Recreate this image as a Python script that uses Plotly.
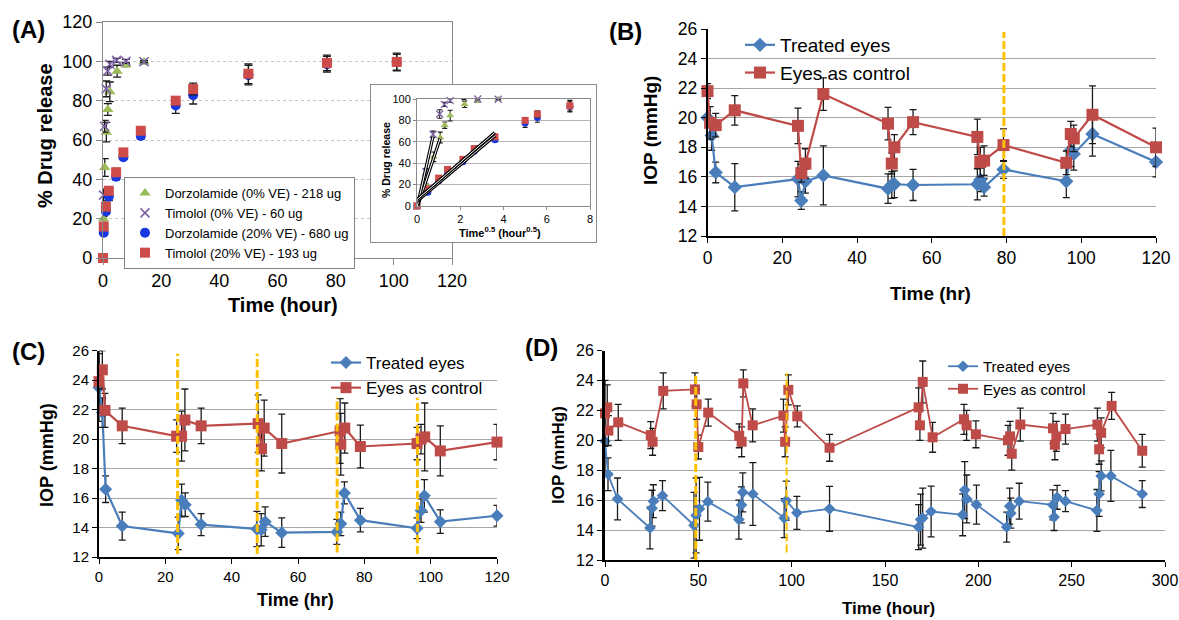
import numpy as np
import plotly.graph_objects as go

W, H = 1179, 620
FONT = "Liberation Sans, Arial, sans-serif"

# ---------------- Panel A data (% drug release) ----------------
a_t_dorzo0 = [0, 0.17, 0.6, 1.15, 1.65, 2.35, 4.85, 7.8, 14.1]
a_y_dorzo0 = [0, 20, 46, 64, 75.5, 84.5, 95, 98.3, 99.7]
a_e_dorzo0 = [0, 1, 4.5, 5, 3, 5, 3, 1, 0.8]
a_t_timo0 = [0, 0.17, 0.55, 1.1, 1.6, 2.35, 4.7, 7.9, 14.1]
a_y_timo0 = [0, 32, 67, 86, 95, 98.5, 100.5, 100, 99.8]
a_e_timo0 = [0, 3, 3, 4, 2, 1.5, 1, 1, 0.5]
a_t_20 = [0, 0.25, 1, 2, 4.5, 7, 13, 25, 31, 50, 77, 101]
a_y_dorzo20 = [0, 12.9, 23.7, 31.2, 41.3, 51.2, 62, 77.5, 82.8, 93, 98.5, 99.5]
a_e_dorzo20 = [0, 1, 1.5, 2, 1.5, 1, 1.5, 4, 4.5, 5, 4, 4]
a_y_timo20 = [0, 16, 26.1, 34.2, 43.6, 53.7, 64.7, 80, 85.9, 93.7, 99.2, 99.7]
a_e_timo20 = [0, 1.5, 1.5, 2, 2, 1.5, 1.5, 2, 3, 5, 4, 4.5]
a_names = ["Dorzolamide (0% VE) - 218 ug", "Timolol (0% VE) - 60 ug",
           "Dorzolamide (20% VE) - 680 ug", "Timolol (20% VE) - 193 ug"]
a_fit_limit = 70  # points used for the sqrt-time linear fits in the inset

# ---------------- Panel B data ----------------
b_t_treated = [0, 1.1, 2.2, 7.3, 24.2, 25.1, 26.2, 31, 48.3, 49.3, 50, 55, 72.2, 73, 74, 79.2, 96, 97.2, 98, 103, 120]
b_y_treated = [20.0, 18.8, 16.3, 15.3, 15.85, 14.4, 15.7, 16.1, 15.2, 15.45, 15.5, 15.45, 15.5, 15.8, 15.3, 16.5, 15.7, 17.8, 17.55, 18.9, 17.0]
b_e_treated = [0.5, 1.0, 0.7, 1.6, 1.2, 0.6, 0.8, 2.0, 1.0, 0.9, 0.9, 1.05, 1.05, 0.8, 0.6, 0.6, 1.1, 1.1, 1.1, 1.5, 1.0]
b_t_control = [0, 0.7, 2.2, 7.3, 24.2, 25.1, 26.2, 31, 48.3, 49.3, 50, 55, 72.2, 73, 74, 79.2, 96, 97.2, 98, 103, 120]
b_y_control = [21.8, 19.65, 19.5, 20.5, 19.45, 16.25, 16.9, 21.6, 19.6, 16.9, 18.0, 19.7, 18.7, 17.0, 17.1, 18.15, 16.95, 18.9, 18.6, 20.2, 18.0]
b_e_control = [0.5, 1.1, 0.8, 1.0, 1.2, 0.6, 1.0, 1.1, 1.1, 0.7, 0.85, 0.85, 1.2, 1.0, 1.0, 1.1, 0.8, 0.85, 0.9, 1.95, 1.3]
b_dose_t = [79.3]
b_dose_top = [25.8]
b_dose_bottom = [12.0]

# ---------------- Panel C data ----------------
c_t_treated = [0, 1, 2, 7, 23.9, 24.9, 26, 30.8, 47.6, 48.9, 50.1, 55.1, 71.7, 72.9, 74, 78.8, 95.9, 97.1, 98.1, 102.9, 120]
c_y_treated = [23.5, 21.8, 16.6, 14.1, 13.6, 15.85, 15.55, 14.2, 13.9, 13.85, 14.4, 13.65, 13.7, 14.25, 16.35, 14.5, 13.95, 15.15, 16.15, 14.4, 14.8]
c_e_treated = [2.3, 1.0, 0.9, 0.95, 1.1, 1.1, 0.8, 0.75, 1.2, 1.1, 1.0, 1.0, 0.85, 0.8, 0.75, 0.8, 0.7, 0.8, 1.1, 0.8, 0.7]
c_t_control = [0, 1, 1.8, 7, 23.4, 24.9, 25.9, 30.8, 48, 49, 49.8, 55.1, 72.7, 72.9, 74.1, 78.8, 95.9, 97.1, 98.2, 102.9, 120]
c_y_control = [23.9, 24.7, 21.95, 20.9, 20.2, 20.2, 21.3, 20.9, 21.05, 19.35, 20.75, 19.7, 20.55, 19.65, 20.75, 19.5, 19.7, 20.0, 20.15, 19.2, 19.8]
c_e_control = [2.1, 1.3, 1.15, 1.2, 1.1, 1.7, 2.1, 1.2, 1.95, 1.5, 1.9, 2.0, 2.2, 2.1, 1.7, 1.45, 1.1, 1.0, 2.3, 1.7, 1.2]
c_dose_t = [23.7, 47.7, 71.8, 96]
c_dose_top = [25.8, 25.8, 22.8, 22.8]
c_dose_bottom = [12.2, 12.2, 12.3, 12.2]

# ---------------- Panel D data ----------------
d_t_treated = [0, 1.6, 6.7, 24.1, 25.2, 25.9, 30.8, 47.7, 48.8, 50.6, 55.1, 71.7, 73.1, 73.8, 79.2, 96, 97.1, 102.8, 120.3,
               168, 169.1, 170.2, 174.7, 191.6, 192.7, 193.8, 199, 215.2, 216.8, 217.4, 221.9, 239.9, 240.6, 242.2, 246.7,
               263.5, 264.7, 265.8, 271, 287.8]
d_y_treated = [19.95, 17.73, 16.08, 14.14, 15.46, 15.93, 16.3, 14.32, 14.98, 15.42, 15.9, 14.7, 15.68, 16.52, 16.41, 14.8, 15.97, 15.15, 15.42,
               14.2, 14.7, 14.8, 15.24, 15.02, 16.67, 16.08, 15.7, 14.2, 15.6, 15.13, 15.93, 15.68, 14.87, 16.19, 15.93,
               15.31, 16.41, 17.62, 17.62, 16.41]
d_e_treated = [2.2, 1.1, 1.4, 1.4, 1.2, 1.1, 1.0, 2.2, 2.5, 2.1, 1.3, 1.3, 1.2, 1.3, 2.1, 1.3, 1.3, 1.1, 1.5,
               1.5, 1.7, 2.0, 1.7, 1.4, 1.9, 1.6, 1.3, 1.0, 1.2, 1.0, 1.2, 1.0, 0.9, 0.8, 0.7,
               1.4, 1.5, 1.0, 1.7, 0.9]
d_t_control = [0, 1.2, 1.8, 7.1, 24.5, 25.5, 31.2, 48.2, 49.1, 50, 55.3, 71.9, 73.2, 74.1, 79.1, 95.6, 96.5, 98.2, 103, 120.3,
               168, 168.7, 170.2, 175.5, 192.3, 193.7, 198.7, 215.9, 217, 217.9, 222.5, 240, 241, 241.8, 246.7,
               263.8, 264.7, 265.8, 271.4, 287.8]
d_y_control = [21.8, 22.2, 20.65, 21.2, 20.35, 19.9, 23.3, 23.4, 22.4, 19.55, 21.85, 20.3, 19.9, 23.8, 21.0, 21.65, 19.9, 23.37, 21.6, 19.5,
               22.2, 21.0, 23.9, 20.2, 21.4, 21.0, 20.4, 20.0, 20.26, 19.1, 21.05, 20.8, 19.7, 20.26, 20.75,
               21.05, 19.4, 20.5, 22.3, 19.3]
d_e_control = [2.2, 1.5, 1.0, 1.2, 0.9, 0.9, 1.2, 1.1, 1.0, 0.8, 0.9, 0.8, 1.0, 0.9, 1.1, 1.1, 1.0, 1.0, 0.7, 0.9,
               1.3, 1.0, 1.4, 1.0, 1.0, 1.0, 0.9, 1.0, 1.0, 1.1, 1.1, 1.0, 1.0, 1.0, 1.0,
               1.1, 1.0, 1.0, 0.9, 1.1]
d_dose_t = [48.6, 97.3]
d_dose_top = [24.5, 24.5]
d_dose_bottom = [12.0, 12.5]

iop_names = ["Treated eyes", "Eyes as control"]

# ---------------- styling ----------------
GREEN, PURPLE, BLUE_A, RED_A = "#9BBB59", "#7F62A8", "#1737E0", "#CD4C4A"
BLUE, RED, ORANGE = "#4A7EBB", "#BE4B48", "#FFC000"


def px(x):
    return x / W


def py(y):
    return 1 - y / H


def err(arr, width=3.5, thick=1.3):
    return dict(type="data", array=arr, symmetric=True, color="#1a1a1a", thickness=thick, width=width, visible=True)


fig = go.Figure()

# ---- Panel A main ----
a_series = [
    (a_names[0], a_t_dorzo0, a_y_dorzo0, a_e_dorzo0, "triangle-up", GREEN, 10),
    (a_names[1], a_t_timo0, a_y_timo0, a_e_timo0, "x-thin", PURPLE, 9),
    (a_names[2], a_t_20, a_y_dorzo20, a_e_dorzo20, "circle", BLUE_A, 10),
    (a_names[3], a_t_20, a_y_timo20, a_e_timo20, "square", RED_A, 10),
]
for name, t, y, e, sym, col, size in a_series:
    if sym == "x-thin":
        mk = dict(symbol=sym, size=size, color=col, line=dict(color=col, width=1.6))
    else:
        mk = dict(symbol=sym, size=size, color=col, line=dict(width=0))
    fig.add_trace(go.Scatter(x=t, y=y, mode="markers", name=name, marker=mk, error_y=err(e, 4),
                             xaxis="x", yaxis="y", legend="legend", cliponaxis=False))

# ---- inset background panel ----
fig.add_trace(go.Scatter(x=[0, 1, 1, 0, 0], y=[0, 0, 1, 1, 0], mode="lines", fill="toself", fillcolor="white",
                         line=dict(color="#8c8c8c", width=2), xaxis="x2", yaxis="y2", showlegend=False,
                         hoverinfo="skip"))

# ---- Panel A inset (sqrt time) ----
for name, t, y, e, sym, col, size in a_series:
    st = np.sqrt(np.array(t, dtype=float))
    if sym == "x-thin":
        mk = dict(symbol=sym, size=7, color=col, line=dict(color=col, width=1.3))
    else:
        mk = dict(symbol=sym, size=7, color=col, line=dict(width=0))
    fig.add_trace(go.Scatter(x=st, y=y, mode="markers", marker=mk, error_y=err(e, 2.5, 1.1),
                             xaxis="x3", yaxis="y3", showlegend=False, cliponaxis=False))
for name, t, y, e, sym, col, size in a_series:
    st = np.sqrt(np.array(t, dtype=float))
    yy = np.array(y, dtype=float)
    sel = yy <= a_fit_limit
    k, b = np.polyfit(st[sel], yy[sel], 1)
    xs = np.array([0.0, st[sel].max()])
    for lw, lc in ((3.2, "black"), (1.0, "white")):
        fig.add_trace(go.Scatter(x=xs, y=k * xs + b, mode="lines", line=dict(color=lc, width=lw),
                                 xaxis="x3", yaxis="y3", showlegend=False, hoverinfo="skip"))


# ---- IOP panels ----
def iop_panel(xa, ya, leg, tt, yt, et, tc, yc, ec, dt, dtop, dbot, dsz, ssz, lw, dash_w):
    fig.add_trace(go.Scatter(x=tt, y=yt, mode="lines+markers", name=iop_names[0],
                             line=dict(color=BLUE, width=lw), marker=dict(symbol="diamond", size=dsz, color=BLUE),
                             error_y=err(et), xaxis=xa, yaxis=ya, legend=leg, cliponaxis=False))
    fig.add_trace(go.Scatter(x=tc, y=yc, mode="lines+markers", name=iop_names[1],
                             line=dict(color=RED, width=lw), marker=dict(symbol="square", size=ssz, color=RED),
                             error_y=err(ec), xaxis=xa, yaxis=ya, legend=leg, cliponaxis=False))
    for i, t in enumerate(dt):
        w = dash_w[i] if isinstance(dash_w, list) else dash_w
        fig.add_trace(go.Scatter(x=[t, t], y=[dbot[i], dtop[i]], mode="lines",
                                 line=dict(color=ORANGE, width=w, dash="8px,3px"),
                                 xaxis=xa, yaxis=ya, showlegend=False, hoverinfo="skip"))


iop_panel("x4", "y4", "legend2", b_t_treated, b_y_treated, b_e_treated, b_t_control, b_y_control, b_e_control,
          b_dose_t, b_dose_top, b_dose_bottom, 11, 12, 2.2, 3)
iop_panel("x5", "y5", "legend3", c_t_treated, c_y_treated, c_e_treated, c_t_control, c_y_control, c_e_control,
          c_dose_t, c_dose_top, c_dose_bottom, 10, 11, 2.2, 3)
iop_panel("x6", "y6", "legend4", d_t_treated, d_y_treated, d_e_treated, d_t_control, d_y_control, d_e_control,
          d_dose_t, d_dose_top, d_dose_bottom, 9, 10, 1.8, [3, 2])

# ---------------- axes ----------------
tick_black = dict(color="black", family=FONT)


def iop_x(dom, rng, dt, fs):
    return dict(domain=dom, range=rng, dtick=dt, tick0=0, showgrid=False, zeroline=False, showline=True,
                linecolor="black", linewidth=1.5, ticks="outside", ticklen=5, tickcolor="black",
                tickfont=dict(size=fs, **tick_black), automargin=False)


def iop_y(dom, fs, lw):
    return dict(domain=dom, range=[12, 26], dtick=2, tick0=12, showgrid=True, gridcolor="#A6A6A6", gridwidth=1.3,
                zeroline=False, showline=True, linecolor="black", linewidth=lw, ticks="outside", ticklen=5,
                tickcolor="black", tickfont=dict(size=fs, **tick_black), automargin=False)


fig.update_layout(
    template="none",
    width=W, height=H, margin=dict(l=0, r=0, t=0, b=0, pad=0, autoexpand=False),
    paper_bgcolor="white", plot_bgcolor="white",
    font=dict(family=FONT, color="black"),
    xaxis=dict(domain=[px(103), px(452)], range=[0, 120], dtick=20, tick0=0, showgrid=False, zeroline=False,
               showline=True, linecolor="#8a8a8a", linewidth=1.2, mirror=True, ticks="outside", ticklen=6,
               tickcolor="#8a8a8a", tickfont=dict(size=18, **tick_black), anchor="y", automargin=False),
    yaxis=dict(domain=[py(258), py(22)], range=[0, 120], dtick=20, tick0=0, showgrid=True, gridcolor="#c4c4c4",
               griddash="dot", gridwidth=1, zeroline=False, showline=True, linecolor="#8a8a8a", linewidth=1.2,
               mirror=True, ticks="outside", ticklen=6, tickcolor="#8a8a8a",
               tickfont=dict(size=18, **tick_black), anchor="x", automargin=False),
    xaxis2=dict(domain=[px(370), px(597)], range=[0, 1], visible=False, anchor="y2", fixedrange=True,
                automargin=False),
    yaxis2=dict(domain=[py(243), py(84)], range=[0, 1], visible=False, anchor="x2", fixedrange=True,
                automargin=False),
    xaxis3=dict(domain=[px(417), px(590)], range=[0, 8], dtick=2, tick0=0, showgrid=False, zeroline=False,
                showline=True, linecolor="#8a8a8a", mirror=True, ticks="outside", ticklen=3, tickcolor="#8a8a8a",
                tickfont=dict(size=11, **tick_black), anchor="y3", automargin=False),
    yaxis3=dict(domain=[py(206), py(99)], range=[0, 100], dtick=20, tick0=0, showgrid=True, gridcolor="#b5b5b5",
                zeroline=False, showline=True, linecolor="#8a8a8a", mirror=True, ticks="outside", ticklen=3,
                tickcolor="#8a8a8a", tickfont=dict(size=11, **tick_black), anchor="x3", automargin=False),
    xaxis4=dict(iop_x([px(707.5), px(1156)], [0, 120], 20, 17.5), anchor="y4"),
    yaxis4=dict(iop_y([py(236), py(29)], 17.5, 1.5), anchor="x4"),
    xaxis5=dict(iop_x([px(99), px(497)], [0, 120], 20, 15), anchor="y5"),
    yaxis5=dict(iop_y([py(557), py(350.7)], 15, 2), anchor="x5"),
    xaxis6=dict(iop_x([px(605), px(1165)], [0, 300], 50, 16), anchor="y6"),
    yaxis6=dict(iop_y([py(560), py(350.5)], 16, 3), anchor="x6"),
    legend=dict(x=px(124), y=py(177), xanchor="left", yanchor="top", bgcolor="white", bordercolor="#808080",
                borderwidth=1, font=dict(size=13, family=FONT, color="black"), itemwidth=30, tracegroupgap=0),
    legend2=dict(x=px(740), y=py(26), xanchor="left", yanchor="top", bgcolor="rgba(255,255,255,0)",
                 font=dict(size=19, family=FONT, color="black"), itemwidth=30),
    legend3=dict(x=px(326), y=py(345), xanchor="left", yanchor="top", bgcolor="rgba(255,255,255,0)",
                 font=dict(size=17, family=FONT, color="black"), itemwidth=30),
    legend4=dict(x=px(943), y=py(350), xanchor="left", yanchor="top", bgcolor="rgba(255,255,255,0)",
                 font=dict(size=15, family=FONT, color="black"), itemwidth=30),
)

ann = []


def add_text(text, x, y, size, angle=0):
    ann.append(dict(text="<b>%s</b>" % text, x=px(x), y=py(y), xref="paper", yref="paper", showarrow=False,
                    font=dict(size=size, family=FONT, color="black"), textangle=angle,
                    xanchor="center", yanchor="middle"))


add_text("(A)", 28, 30, 24)
add_text("(B)", 625, 31, 24)
add_text("(C)", 28, 351, 24)
add_text("(D)", 541, 347, 24)
add_text("% Drug release", 45, 136, 20, -90)
add_text("Time (hour)", 283, 305, 20)
add_text("% Drug release", 386, 160, 10.5, -90)
add_text("Time<sup>0.5</sup> (hour<sup>0.5</sup>)", 500, 232, 11)
add_text("IOP (mmHg)", 650, 131, 19, -90)
add_text("Time (hr)", 930, 294, 19)
add_text("IOP (mmHg)", 47, 455, 18, -90)
add_text("Time (hr)", 295, 600, 18)
add_text("IOP (mmHg)", 558, 455, 17, -90)
add_text("Time (hour)", 888, 608, 17)
fig.update_layout(annotations=ann)

fig.write_html("out.html", config={"displayModeBar": False},
               post_script="document.body.style.margin='0';document.body.style.padding='0';")
